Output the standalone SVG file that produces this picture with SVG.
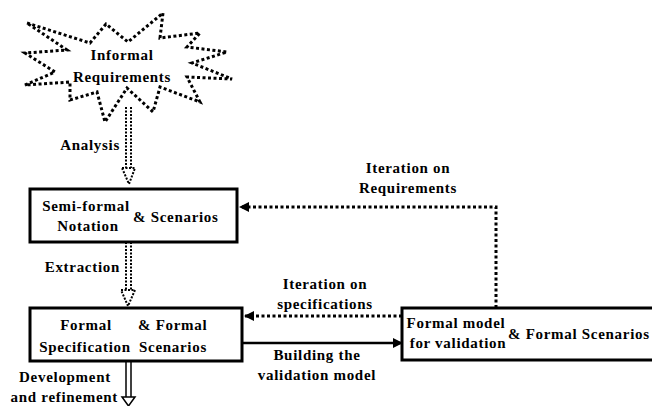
<svg xmlns="http://www.w3.org/2000/svg" width="652" height="406" viewBox="0 0 652 406">
<style>
text{font-family:"Liberation Serif","Times New Roman",serif;font-weight:bold;font-size:15px;letter-spacing:0.7px;fill:#000}
.box{fill:#fff;stroke:#000;stroke-width:3}
.dot{fill:none;stroke:#000;stroke-width:3;stroke-dasharray:3 2.5}
.dotthin{fill:none;stroke:#000;stroke-width:2;stroke-dasharray:2 1.5}
.solid{fill:none;stroke:#000;stroke-width:2.5}
</style>
<defs>
<marker id="tri" markerWidth="10" markerHeight="10" refX="9" refY="5" orient="auto" markerUnits="userSpaceOnUse" viewBox="0 0 10 10">
<path d="M0,0 L10,5 L0,10 z" fill="#000"/>
</marker>
</defs>
<g id="informal">
<polygon class="dot" points="27,23 90,43 106,24 128,42 163,13 160,38 200,33 187,47 227,52 192,63 232,79 187,77 200,102 160,87 153,112 127,88 105,122 97,92 70,100 70,82 25,85 55,72 25,53 67,50"/>
<text x="122" y="60" text-anchor="middle">Informal</text>
<text x="122" y="82" text-anchor="middle">Requirements</text>
</g>
<g id="semiformal">
<rect class="box" x="30" y="189" width="207" height="53"/>
<text x="86" y="211" text-anchor="middle">Semi-formal</text>
<text x="88" y="231" text-anchor="middle">Notation</text>
<text x="133" y="222">&amp; Scenarios</text>
</g>
<g id="formalspec">
<rect class="box" x="30" y="308" width="212" height="53"/>
<text x="86" y="330" text-anchor="middle">Formal</text>
<text x="85" y="352" text-anchor="middle">Specification</text>
<text x="138" y="330">&amp; Formal</text>
<text x="139" y="352">Scenarios</text>
</g>
<g id="formalmodel">
<rect class="box" x="402" y="308" width="262" height="52"/>
<text x="456" y="328" text-anchor="middle">Formal model</text>
<text x="458" y="348" text-anchor="middle">for validation</text>
<text x="508" y="339">&amp; Formal Scenarios</text>
</g>
<g id="connectors">
<!-- Analysis -->
<line class="dotthin" x1="126" y1="107" x2="126" y2="168"/>
<line class="dotthin" x1="131" y1="107" x2="131" y2="168"/>
<polygon class="dotthin" fill="#fff" points="122,168 135,168 129,184"/>
<text x="120" y="150" text-anchor="end">Analysis</text>
<!-- Extraction -->
<line class="dotthin" x1="126" y1="242" x2="126" y2="290"/>
<line class="dotthin" x1="131" y1="242" x2="131" y2="290"/>
<polygon class="dotthin" fill="#fff" points="121,290 135,290 128,306"/>
<text x="120" y="272" text-anchor="end">Extraction</text>
<!-- Development -->
<line stroke="#000" stroke-width="1.5" x1="126" y1="361" x2="126" y2="397"/>
<line stroke="#000" stroke-width="1.5" x1="131" y1="361" x2="131" y2="397"/>
<polygon fill="#fff" stroke="#000" stroke-width="1.5" points="122,397 135,397 128.5,406"/>
<text x="65" y="382" text-anchor="middle">Development</text>
<text x="118" y="402" text-anchor="end">and refinement</text>
<!-- Iteration on Requirements -->
<polyline class="dot" points="496,308 496,207 240,207" marker-end="url(#tri)"/>
<text x="408" y="173" text-anchor="middle">Iteration on</text>
<text x="408" y="193" text-anchor="middle">Requirements</text>
<!-- Iteration on specifications -->
<line class="dot" x1="402" y1="316" x2="245" y2="316" marker-end="url(#tri)"/>
<text x="325" y="289" text-anchor="middle">Iteration on</text>
<text x="325" y="309" text-anchor="middle">specifications</text>
<!-- Building -->
<line class="solid" x1="242" y1="343" x2="402" y2="343" marker-end="url(#tri)"/>
<text x="317" y="360" text-anchor="middle">Building the</text>
<text x="317" y="380" text-anchor="middle">validation model</text>
</g>
</svg>
